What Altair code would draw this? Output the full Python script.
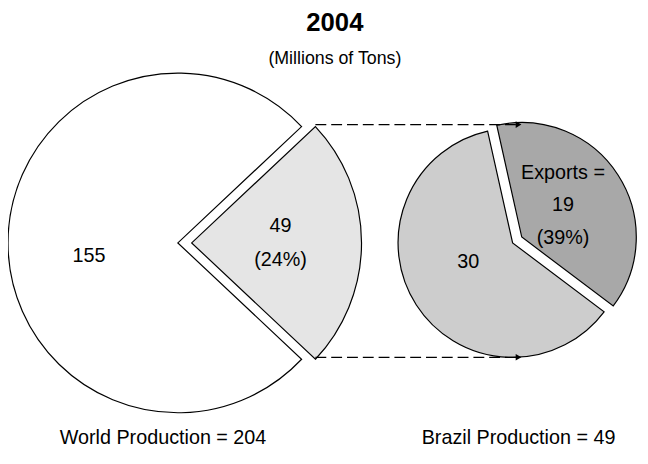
import math
import altair as alt
import pandas as pd

# ---------------- data ----------------
world_parts = ["Brazil", "Rest of World"]
world_values = [49, 155]
brazil_parts = ["Exports", "Domestic"]
brazil_values = [19, 30]
title_text = "2004"
subtitle_text = "(Millions of Tons)"
world_caption = "World Production"
brazil_caption = "Brazil Production"
export_label = "Exports ="

# ---------------- layout ----------------
M = 8                      # page margin
W, H = 640, 456
FONT = "Liberation Sans"
TAU = 2 * math.pi

L_CX, L_CY, L_R, L_EXPLODE = 180 - M, 243 - M, 172, 14
R_CX, R_CY, R_R, R_EXPLODE = 519 - M, 243 - M, 116, 11

world_total = sum(world_values)
brazil_total = sum(brazil_values)
brazil_share = world_values[0] / world_total
export_share = brazil_values[0] / brazil_total

l_start = math.pi / 2 - brazil_share * math.pi      # Brazil slice centred at 3 o'clock
r_start = TAU - 0.22                                 # Exports slice starts just left of 12
r_mid = r_start + export_share * math.pi

fill_scale = alt.Scale(domain=["Rest of World", "Brazil", "Domestic", "Exports"],
                       range=["#ffffff", "#e5e5e5", "#cdcdcd", "#a8a8a8"])

world_df = pd.DataFrame({"part": world_parts, "value": world_values})
brazil_df = pd.DataFrame({"part": brazil_parts, "value": brazil_values})


def pie_layer(df, show, cx, cy, r, start, total):
    return alt.Chart(df).mark_arc(radius=r, stroke="black", strokeWidth=1.2).encode(
        theta=alt.Theta("value:Q", stack=True,
                        scale=alt.Scale(domain=[0, total], range=[start, start + TAU])),
        order=alt.Order("value:Q", sort="ascending"),
        fill=alt.Fill("part:N", scale=fill_scale, legend=None),
        opacity=alt.when(alt.datum.part == show).then(alt.value(1)).otherwise(alt.value(0)),
        x=alt.value(cx),
        y=alt.value(cy),
    )


l_mid = l_start + brazil_share * math.pi
gx = L_CX + L_EXPLODE * math.sin(l_mid)
gy = L_CY - L_EXPLODE * math.cos(l_mid)
dx = R_CX + R_EXPLODE * math.sin(r_mid)
dy = R_CY - R_EXPLODE * math.cos(r_mid)

layers = [
    pie_layer(world_df, "Rest of World", L_CX, L_CY, L_R, l_start, world_total),
    pie_layer(world_df, "Brazil", gx, gy, L_R, l_start, world_total),
    pie_layer(brazil_df, "Domestic", R_CX, R_CY, R_R, r_start, brazil_total),
    pie_layer(brazil_df, "Exports", dx, dy, R_R, r_start, brazil_total),
]

# connector arrows from the exploded Brazil slice to the Brazil pie
l_end = l_start + brazil_share * TAU
corners = [
    (gx + L_R * math.sin(l_start), gy - L_R * math.cos(l_start) - 2),
    (gx + L_R * math.sin(l_end), gy - L_R * math.cos(l_end) - 2),
]
arrow_end = R_CX + 9
one = pd.DataFrame({"k": [0]})
for (x1, y1) in corners:
    layers.append(alt.Chart(one).mark_rule(color="black", strokeWidth=1.2, strokeDash=[11, 5]).encode(
        x=alt.value(x1), x2=alt.value(arrow_end - 4), y=alt.value(y1)))
    layers.append(alt.Chart(one).mark_point(shape="triangle-right", filled=True, size=45,
                                            color="black", opacity=1).encode(
        x=alt.value(arrow_end - 3), y=alt.value(y1)))


def label(text, x, y, size=20, weight="normal", lh=34):
    # y is the centre of the first line
    return alt.Chart(pd.DataFrame({"t": [text]})).mark_text(
        font=FONT, fontSize=size, fontWeight=weight, lineBreak="\n", lineHeight=lh,
        align="center", baseline="middle", color="black").encode(
        x=alt.value(x), y=alt.value(y), text="t:N")


layers += [
    label(str(world_values[1]), 90 - M, 256 - M),
    label(f"{world_values[0]}\n({round(100 * brazil_share)}%)", 284 - M, 226 - M),
    label(str(brazil_values[1]), 474 - M, 262 - M),
    label(f"{export_label}\n{brazil_values[0]}\n({round(100 * export_share)}%)", 570 - M, 172 - M, lh=33),
    label(title_text, 339 - M, 20 - M, size=26, weight="bold"),
    label(subtitle_text, 339 - M, 57 - M, size=18),
    label(f"{world_caption} = {world_total}", 165 - M, 441 - M),
    label(f"{brazil_caption} = {brazil_total}", 525 - M, 441 - M),
]

chart = alt.layer(*layers).properties(
    width=W, height=H, padding=0,
    autosize=alt.AutoSizeParams(type="none"),
).resolve_scale(theta="independent").configure_view(stroke=None)

chart.save("out.html", embed_options={"renderer": "svg", "actions": False})
